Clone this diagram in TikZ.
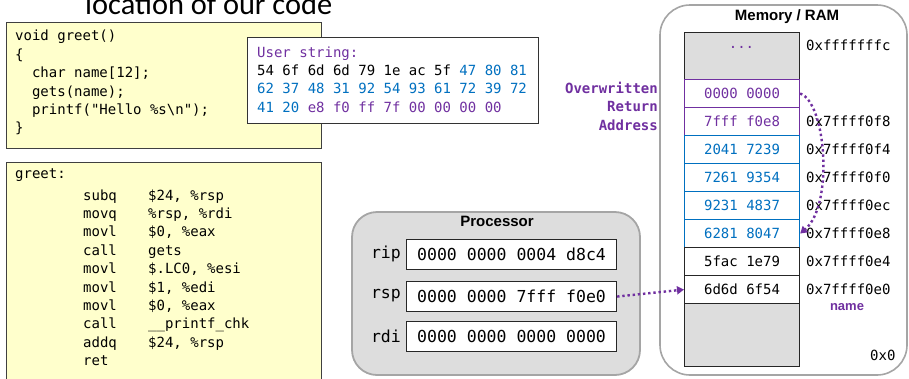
\documentclass[tikz,border=0pt]{standalone}
\usepackage{fontspec}
\setmainfont{Carlito}
\setsansfont{Liberation Sans}
\setmonofont{DejaVu Sans Mono}
\usetikzlibrary{arrows.meta}
\definecolor{pur}{RGB}{112,48,160}
\definecolor{blu}{RGB}{0,112,192}
\definecolor{codebg}{RGB}{255,255,204}
\definecolor{boxgray}{RGB}{221,221,221}
\definecolor{edgegray}{RGB}{165,165,165}
\definecolor{codeedge}{RGB}{64,64,64}
\tikzset{
  codebox/.style={draw=codeedge, fill=codebg, line width=1.2pt, anchor=north west, inner sep=0pt},
  code/.style={anchor=base west, inner sep=0pt, font=\fontsize{14}{16}\ttfamily},
  cell/.style={draw=black!85, line width=1.1pt, minimum width=115pt, minimum height=28pt, inner sep=0pt, anchor=north west, font=\fontsize{14}{16}\ttfamily},
  graycell/.style={cell, fill=boxgray},
  addr/.style={anchor=west, inner sep=0pt, font=\fontsize{14}{16}\ttfamily},
  reg/.style={draw=black!85, line width=1.1pt, fill=white, minimum width=210pt, minimum height=30pt, inner sep=0pt, anchor=north west, font=\fontsize{16.5}{18}\ttfamily},
  reglabel/.style={anchor=east, inner sep=0pt, font=\fontsize{16.5}{18}\ttfamily},
  headline/.style={inner sep=0pt, font=\fontsize{15}{17}\sffamily\bfseries},
  ptr/.style={pur, line width=2.4pt, dash pattern=on 2.4pt off 2.8pt, -{Triangle[length=7pt,width=8pt]}}
}
\begin{document}
\begin{tikzpicture}[x=1pt,y=-1pt]
\useasboundingbox (0,0) rectangle (909,378);
\clip (0,0) rectangle (909,378);

% title (cut off at top)
\node[anchor=base west, inner sep=0pt, font=\fontsize{30.4}{32}\selectfont] (title) at (85,14) {location of our code};

% C source box
\node[codebox, minimum width=315pt, minimum height=126pt] (cbox) at (6,22) {};
\node[code] (c1) at (15,40) {void greet()};
\node[code] (c2) at (15,59) {\{};
\node[code] (c3) at (15,77) {\ \ char name[12];};
\node[code] (c4) at (15,96) {\ \ gets(name);};
\node[code] (c5) at (15,114) {\ \ printf("Hello \%s\textbackslash n");};
\node[code] (c6) at (15,132) {\}};

% assembly box
\node[codebox, minimum width=315pt, minimum height=230pt] (abox) at (6,162) {};
\node[code] (a0) at (15,178) {greet:};
\node[code] (a1) at (83,200) {\makebox[65pt][l]{subq}\$24, \%rsp};
\node[code] (a2) at (83,218.4) {\makebox[65pt][l]{movq}\%rsp, \%rdi};
\node[code] (a3) at (83,236.8) {\makebox[65pt][l]{movl}\$0, \%eax};
\node[code] (a4) at (83,255.2) {\makebox[65pt][l]{call}gets};
\node[code] (a5) at (83,273.6) {\makebox[65pt][l]{movl}\$.LC0, \%esi};
\node[code] (a6) at (83,292) {\makebox[65pt][l]{movl}\$1, \%edi};
\node[code] (a7) at (83,310.4) {\makebox[65pt][l]{movl}\$0, \%eax};
\node[code] (a8) at (83,328.8) {\makebox[65pt][l]{call}\_\_printf\_chk};
\node[code] (a9) at (83,347.2) {\makebox[65pt][l]{addq}\$24, \%rsp};
\node[code] (a10) at (83,365.6) {ret};

% user string box
\node[draw=black!80, fill=white, line width=1pt, anchor=north west, minimum width=291pt, minimum height=86pt, inner sep=0pt] (ubox) at (247,37) {};
\node[code, pur] (u0) at (257,57) {User string:};
\node[code] (u1) at (257,75.5) {54 6f 6d 6d 79 1e ac 5f \textcolor{blu}{47 80 81}};
\node[code, blu] (u2) at (257,93.8) {62 37 48 31 92 54 93 61 72 39 72};
\node[code] (u3) at (257,112) {\textcolor{blu}{41 20} \textcolor{pur}{e8 f0 ff 7f 00 00 00 00}};

% memory box
\draw[draw=edgegray, line width=1.6pt, fill=white, rounded corners=30pt] (660,5) rectangle (907,375);
\node[headline] (memtitle) at (787,17) {Memory / RAM};
\node[graycell, minimum height=47pt] (mtop) at (684,32) {};
\node[pur, font=\fontsize{14}{16}\ttfamily, inner sep=0pt] (dots) at (741.5,47) {...};
\node[cell, pur] (m0) at (684,79) {0000 0000};
\node[cell, pur] (m1) at (684,107) {7fff f0e8};
\node[cell, blu] (m2) at (684,135) {2041 7239};
\node[cell, blu] (m3) at (684,163) {7261 9354};
\node[cell, blu] (m4) at (684,191) {9231 4837};
\node[cell, blu] (m5) at (684,219) {6281 8047};
\node[cell] (m6) at (684,247) {5fac 1e79};
\node[cell] (m7) at (684,275) {6d6d 6f54};
\node[graycell, minimum height=63pt] (mbot) at (684,303) {};

\node[addr] (ad0) at (806,45) {0xfffffffc};
\node[addr] (ad1) at (806,121) {0x7ffff0f8};
\node[addr] (ad2) at (806,149) {0x7ffff0f4};
\node[addr] (ad3) at (806,177) {0x7ffff0f0};
\node[addr] (ad4) at (806,205) {0x7ffff0ec};
\node[addr] (ad5) at (806,233) {0x7ffff0e8};
\node[addr] (ad6) at (806,261) {0x7ffff0e4};
\node[addr] (ad7) at (806,289) {0x7ffff0e0};
\node[pur, inner sep=0pt, font=\fontsize{13}{15}\sffamily\bfseries] (nm) at (847,307) {name};
\node[addr] (ad8) at (870,355) {0x0};

\node[anchor=north east, align=right, inner sep=0pt, pur, font=\fontsize{14}{18.4}\ttfamily\bfseries] (ow) at (658,82) {Overwritten\\Return\\Address};

% processor box
\draw[draw=edgegray, line width=1.8pt, fill=boxgray, rounded corners=25pt] (352,212) rectangle (640,375);
\node[headline] (proctitle) at (497,221) {Processor};
\node[reg] (rip) at (406,239) {0000 0000 0004 d8c4};
\node[reg] (rsp) at (406,281) {0000 0000 7fff f0e0};
\node[reg] (rdi) at (406,321) {0000 0000 0000 0000};
\node[reglabel] (lrip) at (401,254) {rip};
\node[reglabel] (lrsp) at (401,296) {rsp};
\node[reglabel] (lrdi) at (401,336) {rdi};

% pointers
\draw[ptr] (rsp.east) -- (m7.west);
\draw[ptr] (m0.east) .. controls (826,102) and (834,205) .. (m5.east);
\end{tikzpicture}
\end{document}
